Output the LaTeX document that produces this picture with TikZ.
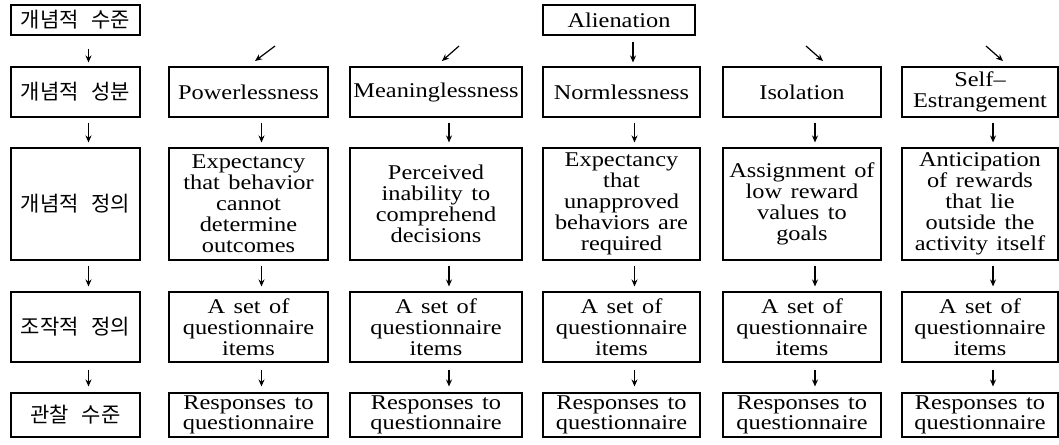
\documentclass[tikz,border=0pt]{standalone}
\usepackage{fontspec}
\setmainfont[FakeStretch=1.16,WordSpace=1.4]{Liberation Serif}
\newfontfamily\kofont{Noto Sans CJK KR}
\usetikzlibrary{arrows.meta}
\tikzset{
  box/.style 2 args={draw, line width=1.1pt, align=center, inner sep=0pt,
    minimum width=#1, minimum height=#2, font=\fontsize{21}{21}\selectfont},
  kor/.style={font=\kofont\fontsize{21}{21}\selectfont},
  tight/.style={font=\fontsize{21}{20}\selectfont},
  arr/.style={-{Stealth[length=7pt,width=6pt]}, line width=1.2pt},
  varr/.style={arr, shorten <=5pt, shorten >=5pt},
}
\newcommand{\ksp}{\hspace{0.6em}}
\begin{document}
\begin{tikzpicture}[x=1pt,y=-1pt]
\useasboundingbox (0,0) rectangle (1059,444);
% row 1
\node[box={129}{30}, kor] (c0r1) at (75.5,20) {개념적\ksp 수준};
\node[box={152}{30}] (c3r1) at (619,20) {Alienation};
% column 0
\node[box={129}{50}, kor] (c0r2) at (75.5,92) {개념적\ksp 성분};
\node[box={129}{112}, kor] (c0r3) at (75.5,204) {개념적\ksp 정의};
\node[box={129}{70}, kor] (c0r4) at (75.5,327) {조작적\ksp 정의};
\node[box={129}{44}, kor] (c0r5) at (75.5,415) {관찰\ksp 수준};
% column 1
\node[box={159}{50}] (c1r2) at (248.5,92) {Powerlessness};
\node[box={159}{112}] (c1r3) at (248.5,204) {Expectancy\\that behavior\\cannot\\determine\\outcomes};
\node[box={159}{70}] (c1r4) at (248.5,327) {A set of\\questionnaire\\items};
\node[box={159}{44}, tight] (c1r5) at (248.5,415) {Responses to\\questionnaire};
% column 2
\node[box={172}{50}] (c2r2) at (436,92) {Meaninglessness};
\node[box={172}{112}] (c2r3) at (436,204) {Perceived\\inability to\\comprehend\\decisions};
\node[box={172}{70}] (c2r4) at (436,327) {A set of\\questionnaire\\items};
\node[box={172}{44}, tight] (c2r5) at (436,415) {Responses to\\questionnaire};
% column 3
\node[box={157}{50}] (c3r2) at (621.5,92) {Normlessness};
\node[box={157}{112}] (c3r3) at (621.5,204) {Expectancy\\that\\unapproved\\behaviors are\\required};
\node[box={157}{70}] (c3r4) at (621.5,327) {A set of\\questionnaire\\items};
\node[box={157}{44}, tight] (c3r5) at (621.5,415) {Responses to\\questionnaire};
% column 4
\node[box={158}{50}] (c4r2) at (802,92) {Isolation};
\node[box={158}{112}] (c4r3) at (802,204) {Assignment of\\low reward\\values to\\goals};
\node[box={158}{70}] (c4r4) at (802,327) {A set of\\questionnaire\\items};
\node[box={158}{44}, tight] (c4r5) at (802,415) {Responses to\\questionnaire};
% column 5
\node[box={156}{50}] (c5r2) at (980,92) {Self--\\Estrangement};
\node[box={156}{112}] (c5r3) at (980,204) {Anticipation\\of rewards\\that lie\\outside the\\activity itself};
\node[box={156}{70}] (c5r4) at (980,327) {A set of\\questionnaire\\items};
\node[box={156}{44}, tight] (c5r5) at (980,415) {Responses to\\questionnaire};
% vertical arrows
\draw[arr, shorten <=13pt, shorten >=4pt] ([xshift=13pt]c0r1.south) -- ([xshift=13pt]c0r2.north);
\draw[arr, shorten <=6pt, shorten >=4pt] ([xshift=14pt]c3r1.south) -- ([xshift=14pt]c3r1.south |- c3r2.north);
\foreach \c in {0,...,5}{
  \draw[varr] ([xshift=13pt]c\c r2.south) -- ([xshift=13pt]c\c r3.north);
  \draw[varr] ([xshift=13pt]c\c r3.south) -- ([xshift=13pt]c\c r4.north);
  \draw[arr, shorten <=7pt, shorten >=6pt] ([xshift=13pt]c\c r4.south) -- ([xshift=13pt]c\c r5.north);
}
% diagonal arrows
\coordinate (d1s) at (275,46); \coordinate (d1e) at (255,61);
\coordinate (d2s) at (459,46); \coordinate (d2e) at (442,61);
\coordinate (d4s) at (806,46); \coordinate (d4e) at (823,61);
\coordinate (d5s) at (986,46); \coordinate (d5e) at (1003,61);
\draw[arr] (d1s) -- (d1e);
\draw[arr] (d2s) -- (d2e);
\draw[arr] (d4s) -- (d4e);
\draw[arr] (d5s) -- (d5e);
\end{tikzpicture}
\end{document}
